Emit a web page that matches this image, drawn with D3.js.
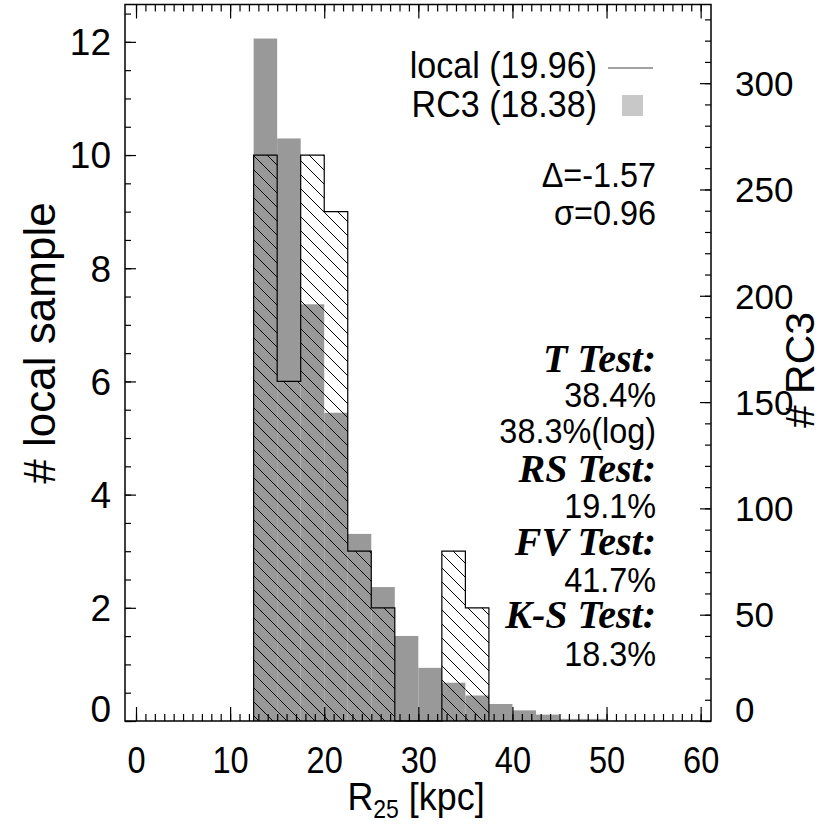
<!DOCTYPE html>
<html><head><meta charset="utf-8">
<script src="https://cdn.jsdelivr.net/npm/d3@7"></script>
<style>body{margin:0;background:#fff}</style>
</head><body>
<svg id="c" width="824" height="824"></svg>
<script>
const binWidth = 2.5;
const localBinStarts = [12.5, 15, 17.5, 20, 22.5, 25, 27.5, 30, 32.5, 35];
const localCounts = [10, 6, 10, 9, 3, 2, 0, 0, 3, 2];
const rc3BinStarts = [12.5, 15, 17.5, 20, 22.5, 25, 27.5, 30, 32.5, 35, 37.5, 40, 42.5, 45, 47.5];
const rc3Counts = [321, 274, 196, 145, 88, 63, 40, 25, 18, 12, 8, 5, 3, 1, 1];
const xTicks = [0, 10, 20, 30, 40, 50, 60];
const leftTicks = [0, 2, 4, 6, 8, 10, 12];
const rightTicks = [0, 50, 100, 150, 200, 250, 300];
const legendLabels = ["local (19.96)", "RC3 (18.38)"];
const statLines = ["Δ=-1.57", "σ=0.96", "T Test:", "38.4%", "38.3%(log)", "RS Test:", "19.1%", "FV Test:", "41.7%", "K-S Test:", "18.3%"];
const statBold = [false, false, true, false, false, true, false, true, false, true, false];
const xDomain = [-1.17, 61.1];
const leftDomain = [0, 12.66];
const rightDomain = [0, 337];

const L = 125, R = 711, T = 4.5, B = 721;
const svg = d3.select("#c");
const x = d3.scaleLinear().domain(xDomain).range([L, R]);
const yL = d3.scaleLinear().domain(leftDomain).range([B, T]);
const yR = d3.scaleLinear().domain(rightDomain).range([B, T]);

const defs = svg.append("defs");
const pat = defs.append("pattern").attr("id", "hatch").attr("patternUnits", "userSpaceOnUse")
  .attr("width", 14).attr("height", 14);
pat.append("path").attr("d", "M-2,-2 L16,16 M-8,6 L8,22 M6,-8 L22,8")
  .attr("stroke", "#000").attr("stroke-width", 1);

const SANS = "'Liberation Sans', Arial, Helvetica, sans-serif";
const SERIF = "'Liberation Serif', 'Times New Roman', serif";
const NARROW = "scale(0.88,1)";

// RC3 gray bars
svg.append("g").selectAll("rect").data(rc3BinStarts).join("rect")
  .attr("x", d => x(d)).attr("width", d => x(d + binWidth) - x(d))
  .attr("y", (d, i) => yR(rc3Counts[i])).attr("height", (d, i) => B - yR(rc3Counts[i]))
  .attr("fill", "#999999");

// local hatched bars
svg.append("g").selectAll("rect").data(localBinStarts).join("rect")
  .attr("x", d => x(d)).attr("width", d => x(d + binWidth) - x(d))
  .attr("y", (d, i) => yL(localCounts[i])).attr("height", (d, i) => B - yL(localCounts[i]))
  .attr("fill", "url(#hatch)");

// local outline (step)
const pts = [[localBinStarts[0], 0]];
localBinStarts.forEach((d, i) => { pts.push([d, localCounts[i]]); pts.push([d + binWidth, localCounts[i]]); });
pts.push([localBinStarts[localBinStarts.length - 1] + binWidth, 0]);
svg.append("path").attr("d", d3.line().x(p => x(p[0])).y(p => yL(p[1]))(pts))
  .attr("fill", "none").attr("stroke", "#000").attr("stroke-width", 1.2);

// axes
function styleAxis(g) { g.select(".domain").remove(); g.selectAll("line").attr("stroke", "#000").attr("stroke-width", 1.2); }
svg.append("g").attr("transform", `translate(0,${B})`)
  .call(d3.axisBottom(x).tickValues(d3.range(0, 61, 1)).tickSizeInner(-7).tickSizeOuter(0).tickFormat(""))
  .call(styleAxis);
const xb = svg.append("g").attr("transform", `translate(0,${B})`)
  .call(d3.axisBottom(x).tickValues(xTicks).tickSizeInner(-14).tickSizeOuter(0).tickPadding(26))
  .call(styleAxis);
xb.selectAll("text").attr("font-family", SANS).attr("font-size", 37).attr("fill", "#000")
  .attr("transform", NARROW);
svg.append("g").attr("transform", `translate(0,${T})`)
  .call(d3.axisTop(x).tickValues(d3.range(0, 61, 1)).tickSizeInner(-7).tickSizeOuter(0).tickFormat(""))
  .call(styleAxis);
svg.append("g").attr("transform", `translate(0,${T})`)
  .call(d3.axisTop(x).tickValues(xTicks).tickSizeInner(-14).tickSizeOuter(0).tickFormat(""))
  .call(styleAxis);

svg.append("g").attr("transform", `translate(${L},0)`)
  .call(d3.axisLeft(yL).tickValues(d3.range(0, 12.6, 0.5)).tickSizeInner(-6).tickSizeOuter(0).tickFormat(""))
  .call(styleAxis);
const yl = svg.append("g").attr("transform", `translate(${L},0)`)
  .call(d3.axisLeft(yL).tickValues(leftTicks).tickSizeInner(-11).tickSizeOuter(0).tickPadding(14))
  .call(styleAxis);
yl.selectAll("text").attr("font-family", SANS).attr("font-size", 37).attr("fill", "#000")
  .attr("dy", d => d === 0 ? "0.0em" : "0.35em");

svg.append("g").attr("transform", `translate(${R},0)`)
  .call(d3.axisRight(yR).tickValues(d3.range(0, 331, 10)).tickSizeInner(-6).tickSizeOuter(0).tickFormat(""))
  .call(styleAxis);
const yr = svg.append("g").attr("transform", `translate(${R},0)`)
  .call(d3.axisRight(yR).tickValues(rightTicks).tickSizeInner(-11).tickSizeOuter(0).tickPadding(24))
  .call(styleAxis);
yr.selectAll("text").attr("font-family", SANS).attr("font-size", 35).attr("fill", "#000")
  .attr("dy", d => d === 0 ? "0.0em" : "0.35em");

// frame
svg.append("rect").attr("x", L).attr("y", T).attr("width", R - L).attr("height", B - T)
  .attr("fill", "none").attr("stroke", "#000").attr("stroke-width", 1.5);

// axis titles
const xt = svg.append("text").attr("transform", "translate(416,810) scale(0.92,1)").attr("text-anchor", "middle")
  .attr("font-family", SANS).attr("font-size", 39).attr("fill", "#000");
xt.append("tspan").text("R");
xt.append("tspan").attr("font-size", 25).attr("dy", 8).text("25");
xt.append("tspan").attr("dy", -8).text(" [kpc]");

svg.append("text").attr("transform", "translate(55,343) rotate(-90)").attr("text-anchor", "middle")
  .attr("font-family", SANS).attr("font-size", 44).attr("fill", "#000").text("# local sample");
svg.append("text").attr("transform", "translate(814,370) rotate(-90)").attr("text-anchor", "middle")
  .attr("font-family", SANS).attr("font-size", 41).attr("fill", "#000").text("# RC3");

// legend
const legY = [78, 117];
legendLabels.forEach((t, i) => {
  svg.append("text").attr("transform", `translate(597,${legY[i]}) scale(0.92,1)`).attr("text-anchor", "end")
    .attr("font-family", SANS).attr("font-size", 37).attr("fill", "#000").text(t);
});
svg.append("line").attr("x1", 608).attr("x2", 653).attr("y1", 68).attr("y2", 68)
  .attr("stroke", "#444").attr("stroke-width", 1);
svg.append("rect").attr("x", 622).attr("y", 95).attr("width", 21).attr("height", 21).attr("fill", "#c8c8c8");

// stats
const statY = [187, 225, 372, 407, 443, 482, 518, 555, 592, 628, 666];
statLines.forEach((t, i) => {
  const el = svg.append("text").attr("text-anchor", "end").attr("fill", "#000").text(t);
  if (statBold[i]) el.attr("transform", `translate(656,${statY[i]})`)
    .attr("font-family", SERIF).attr("font-size", 40).attr("font-weight", "bold").attr("font-style", "italic");
  else el.attr("transform", `translate(656,${statY[i]}) scale(0.9,1)`)
    .attr("font-family", SANS).attr("font-size", 36);
});
</script>
</body></html>
